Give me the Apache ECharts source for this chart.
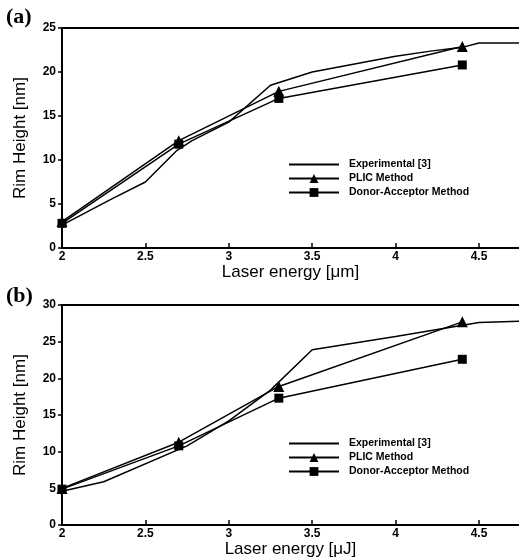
<!DOCTYPE html>
<html>
<head>
<meta charset="utf-8">
<script src="https://cdn.jsdelivr.net/npm/echarts@6/dist/echarts.min.js"></script>
<style>
  html, body { margin: 0; padding: 0; background: #fff; }
  #chart { width: 519px; height: 559px; }
</style>
</head>
<body>
<div id="chart"></div>
<script>
const xTicks = [2, 2.5, 3, 3.5, 4, 4.5]

// panel (a)
const expAx = [2, 2.29, 2.5, 2.69, 2.78, 3.0, 3.25, 3.5, 4.0, 4.22, 4.4, 4.5, 4.74]
const expAy = [2.6, 5.5, 7.5, 11.1, 12.2, 14.3, 18.5, 20.0, 21.8, 22.4, 22.8, 23.3, 23.3]
const plicAx = [2, 2.7, 3.3, 4.4]
const plicAy = [3.0, 12.2, 17.8, 22.9]
const daAx = [2, 2.7, 3.3, 4.4]
const daAy = [2.8, 11.8, 17.0, 20.8]

// panel (b)
const expBx = [2, 2.25, 2.75, 3.0, 3.25, 3.5, 4.0, 4.5, 4.74]
const expBy = [4.6, 5.9, 10.8, 14.2, 18.4, 23.9, 25.7, 27.6, 27.8]
const plicBx = [2, 2.7, 3.3, 4.4]
const plicBy = [5.0, 11.3, 18.9, 27.7]
const daBx = [2, 2.7, 3.3, 4.4]
const daBy = [4.9, 10.8, 17.3, 22.6]

const names = ['Experimental [3]', 'PLIC Method', 'Donor-Acceptor Method']

const pairs = (xs, ys) => xs.map((x, i) => [x, ys[i]])

const chart = echarts.init(document.getElementById('chart'))

const bottomAxis = (idx, name) => ({
  type: 'value',
  gridIndex: idx,
  min: 2,
  max: 4.74,
  interval: 0.5,
  name: name,
  nameLocation: 'middle',
  nameGap: 15,
  nameTextStyle: {color: '#000', fontFamily: 'Liberation Sans', fontSize: 17},
  axisLine: {lineStyle: {color: '#000', width: 2}},
  axisTick: {inside: true, length: 5, lineStyle: {color: '#000', width: 1.5}},
  axisLabel: {
    color: '#000', fontFamily: 'Liberation Sans', fontWeight: 'bold', fontSize: 12,
    margin: 3, showMaxLabel: false,
    formatter: v => xTicks.includes(v) ? String(v) : ''
  },
  splitLine: {show: false}
})

const topAxis = idx => ({
  type: 'value',
  gridIndex: idx,
  position: 'top',
  min: 2,
  max: 4.74,
  axisLine: {show: true, lineStyle: {color: '#000', width: 2}},
  axisTick: {show: false},
  axisLabel: {show: false},
  splitLine: {show: false}
})

const leftAxis = (idx, max) => ({
  type: 'value',
  gridIndex: idx,
  min: 0,
  max: max,
  interval: 5,
  name: 'Rim Height [nm]',
  nameLocation: 'middle',
  nameGap: 33,
  nameTextStyle: {color: '#000', fontFamily: 'Liberation Sans', fontSize: 17},
  axisLine: {show: true, lineStyle: {color: '#000', width: 2}},
  axisTick: {show: true, length: 4, lineStyle: {color: '#000', width: 1.5}},
  axisLabel: {color: '#000', fontFamily: 'Liberation Sans', fontWeight: 'bold', fontSize: 12, margin: 6},
  splitLine: {show: false}
})

const lineSeries = (name, data, idx, symbol, size) => ({
  name: name,
  type: 'line',
  xAxisIndex: idx * 2,
  yAxisIndex: idx,
  data: data,
  symbol: symbol,
  symbolSize: size,
  showSymbol: symbol !== 'none',
  itemStyle: {color: '#000'},
  lineStyle: {color: '#000', width: 1.5},
  animation: false
})

const legendBox = (top) => ({
  orient: 'vertical',
  left: 283,
  top: top,
  itemWidth: 50,
  itemHeight: 11,
  itemGap: 3,
  data: [
    {name: names[0], itemStyle: {opacity: 0}},
    names[1],
    names[2]
  ],
  textStyle: {color: '#000', fontFamily: 'Liberation Sans', fontWeight: 'bold', fontSize: 10.5, padding: [0, 0, 0, 5]}
})

const option = {
  backgroundColor: '#fff',
  title: [
    {text: '(a)', left: 1, top: 1, textStyle: {fontFamily: 'Liberation Serif', fontSize: 22, fontWeight: 'bold', color: '#000'}},
    {text: '(b)', left: 1, top: 280, textStyle: {fontFamily: 'Liberation Serif', fontSize: 22, fontWeight: 'bold', color: '#000'}}
  ],
  legend: [legendBox(154), legendBox(433)],
  grid: [
    {left: 62, right: 0, top: 28, height: 220},
    {left: 62, right: 0, top: 305, height: 221}
  ],
  xAxis: [
    bottomAxis(0, 'Laser energy [μm]'), topAxis(0),
    bottomAxis(1, 'Laser energy [μJ]'), topAxis(1)
  ],
  yAxis: [leftAxis(0, 25), leftAxis(1, 30)],
  series: [
    lineSeries(names[0], pairs(expAx, expAy), 0, 'none', 0),
    lineSeries(names[1], pairs(plicAx, plicAy), 0, 'triangle', 11),
    lineSeries(names[2], pairs(daAx, daAy), 0, 'rect', 9),
    lineSeries(names[0], pairs(expBx, expBy), 1, 'none', 0),
    lineSeries(names[1], pairs(plicBx, plicBy), 1, 'triangle', 11),
    lineSeries(names[2], pairs(daBx, daBy), 1, 'rect', 9)
  ]
}

chart.setOption(option)
</script>
</body>
</html>
